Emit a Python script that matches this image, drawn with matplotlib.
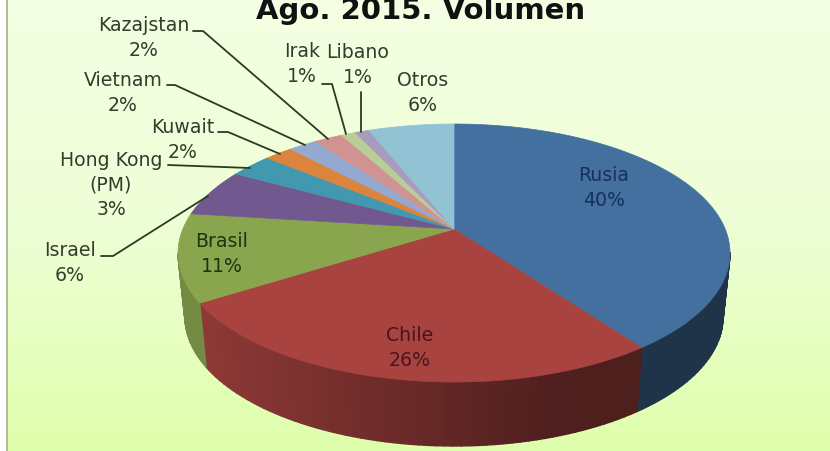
import numpy as np
import matplotlib
matplotlib.use("Agg")
import matplotlib.pyplot as plt
from matplotlib.colors import LinearSegmentedColormap, to_rgb
from matplotlib.patches import Polygon, Rectangle

# ---- data ----
title = "Ago. 2015. Volumen"
categories = ["Rusia", "Chile", "Brasil", "Israel", "Hong Kong\n(PM)", "Kuwait",
              "Vietnam", "Kazajstan", "Irak", "Libano", "Otros"]
values = [40, 26, 11, 6, 3, 2, 2, 2, 1, 1, 6]
colors = ["#44709f", "#a84340", "#89a54e", "#71588f", "#4198af", "#db843d",
          "#93a9cf", "#d19392", "#b9cd96", "#a99bbd", "#91c3d5"]

# ---- geometry (pixels) ----
W, H = 830, 452
CX = 454
TOP_CY, TOP_RX, TOP_RY = 254, 276, 129
BOT_CY, BOT_RX, BOT_RY = 318, 269, 129
APEX = 0.186  # perspective shift of the pie centre


def disc(theta):
    """Clockwise angle from 12 o'clock -> perspective-shifted unit-disc point."""
    u, v = np.sin(theta), np.cos(theta)
    d = 1 + APEX * v
    return np.sqrt(1 - APEX**2) * u / d, (v + APEX) / d


def top(theta):
    x, y = disc(theta)
    return CX + TOP_RX * x, TOP_CY - TOP_RY * y


def bottom(theta):
    x, y = disc(theta)
    return CX + BOT_RX * x, BOT_CY - BOT_RY * y


fig = plt.figure(figsize=(W / 100, H / 100), dpi=100)
ax = fig.add_axes([0, 0, 1, 1])
ax.axis("off")

# background
cmap = LinearSegmentedColormap.from_list("bg", ["#f5ffe3", "#eefed6", "#dfffab"])
ax.imshow(np.linspace(0, 1, 256)[:, None], extent=(7, W, H, 0), cmap=cmap,
          aspect="auto", zorder=0)
ax.add_patch(Rectangle((6, 0), 2.2, H, color="#aebba0", lw=0, zorder=1))
ax.set_xlim(0, W)
ax.set_ylim(H, 0)

edges = np.deg2rad(np.cumsum([0] + values) * 3.6)

# side wall, shaded from left (light) to right (dark)
for i, (a, b) in enumerate(zip(edges[:-1], edges[1:])):
    n = max(2, int(np.degrees(b - a) / 1.5))
    ts = np.linspace(a, b, n + 1)
    base = np.array(to_rgb(colors[i]))
    for t0, t1 in zip(ts[:-1], ts[1:]):
        xm, ym = disc((t0 + t1) / 2)
        if ym > 0.0:
            continue
        shade = 0.46 + 0.38 * np.clip((0.4 - xm) / 1.3, 0, 1)
        c = tuple(base * shade)
        poly = [top(t0), top(t1), bottom(t1), bottom(t0)]
        ax.add_patch(Polygon(poly, closed=True, fc=c, ec=c, lw=1.0,
                             joinstyle="round", zorder=2))

# top face
for i, (a, b) in enumerate(zip(edges[:-1], edges[1:])):
    ts = np.linspace(a, b, max(3, int(np.degrees(b - a))))
    xs, ys = top(ts)
    apex_y = TOP_CY - TOP_RY * APEX
    pts = np.column_stack([np.r_[CX, xs], np.r_[apex_y, ys]])
    ax.add_patch(Polygon(pts, closed=True, fc=colors[i], ec=colors[i], lw=0.5, zorder=3))

# labels
FONT = "DejaVu Sans"
FS = 13.6
label_pos = [(604, 188), (410, 348), (222, 254), (70, 263), (111, 185), (183, 140),
             (123, 93), (144, 38), (302, 64), (358, 65), (423, 93)]
label_col = ["#16305a", "#4a1420", "#1c3410", "#333d2e", "#333d2e", "#333d2e",
             "#333d2e", "#333d2e", "#333d2e", "#333d2e", "#333d2e"]
for cat, val, (x, y), c in zip(categories, values, label_pos, label_col):
    ax.text(x, y, f"{cat}\n{val}%", ha="center", va="center", family=FONT,
            fontsize=FS, color=c, linespacing=1.38, zorder=5)

# leader lines
leaders = [
    [(193, 32), (203, 32), (328, 140)],
    [(167, 86), (175, 86), (305, 146)],
    [(218, 133), (228, 133), (280, 155)],
    [(168, 166), (250, 169)],
    [(101, 257), (113, 257), (208, 197)],
    [(322, 85), (332, 85), (346, 135)],
    [(361, 93), (361, 133)],
]
for pts in leaders:
    xs, ys = zip(*pts)
    ax.plot(xs, ys, color="#2c3a22", lw=1.3, zorder=4, solid_capstyle="round")

ax.text(421, 19, title, ha="center", va="baseline", family=FONT, fontweight="bold",
        fontsize=21, color="#111111", zorder=5)

fig.savefig("out.png", dpi=100, facecolor="white")
